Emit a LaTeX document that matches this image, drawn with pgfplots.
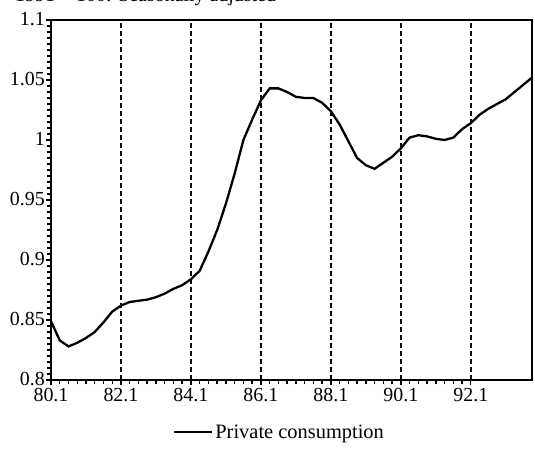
\documentclass[border=0pt]{standalone}
\usepackage{fontspec}
\setmainfont{Liberation Serif}
\usepackage{pgfplots}
\pgfplotsset{compat=1.18}
\begin{document}
\begin{tikzpicture}[x=1bp,y=1bp]
\begin{axis}[
  scale only axis,
  width=481bp, height=360bp,
  at={(0,0)}, anchor=south west,
  xmin=0, xmax=55, ymin=0.8, ymax=1.1,
  xtick={0,8,16,24,32,40,48},
  xticklabels={80.1,82.1,84.1,86.1,88.1,90.1,92.1},
  minor x tick num=7,
  ytick={0.8,0.85,0.9,0.95,1,1.05,1.1},
  yticklabels={0.8,0.85,0.9,0.95,1,1.05,1.1},
  minor y tick num=9,
  tick align=outside,
  xtick pos=bottom, ytick pos=left,
  major tick length=5bp, minor tick length=4bp,
  every tick/.style={black, line width=1.4bp},
  minor y tick style={line width=1.6bp},
  axis line style={line width=1.5bp},
  xmajorgrids,
  grid style={black, line width=2.2bp, dash pattern=on 5bp off 3bp},
  ticklabel style={font=\fontsize{20}{22}\selectfont, inner sep=1bp},
  /pgf/number format/assume math mode=true,
  xticklabel style={yshift=-2bp},
  yticklabel style={xshift=0bp, yshift=1bp},
  legend style={draw=none, at={(0.475,-0.145)}, anchor=center,
    font=\fontsize{20.5}{22}\selectfont, fill=none},
  legend image code/.code={\draw[#1] (0bp,0bp) -- (38bp,0bp);},
]
\addplot[black, line width=2.3bp] coordinates {
(0,0.849) (1,0.833) (2,0.828) (3,0.831) (4,0.835) (5,0.840) (6,0.848) (7,0.857)
(8,0.862) (9,0.865) (10,0.866) (11,0.867) (12,0.869) (13,0.872) (14,0.876) (15,0.879)
(16,0.884) (17,0.891) (18,0.907) (19,0.925) (20,0.947) (21,0.972) (22,1.000) (23,1.017)
(24,1.033) (25,1.043) (26,1.043) (27,1.040) (28,1.036) (29,1.035) (30,1.035) (31,1.031)
(32,1.024) (33,1.013) (34,0.999) (35,0.985) (36,0.979) (37,0.976) (38,0.981) (39,0.986)
(40,0.993) (41,1.002) (42,1.004) (43,1.003) (44,1.001) (45,1.000) (46,1.002) (47,1.009)
(48,1.014) (49,1.021) (50,1.026) (51,1.030) (52,1.034) (53,1.040) (54,1.046) (55,1.052)
};
\addlegendentry{Private consumption}
\end{axis}
\node[anchor=base west, font=\fontsize{20}{22}\selectfont, inner sep=0pt] at (-36bp,378bp) {1991 = 100: Seasonally adjusted};
\pgfresetboundingbox
\useasboundingbox (-51bp,-70bp) rectangle (484bp,380bp);
\end{tikzpicture}
\end{document}
